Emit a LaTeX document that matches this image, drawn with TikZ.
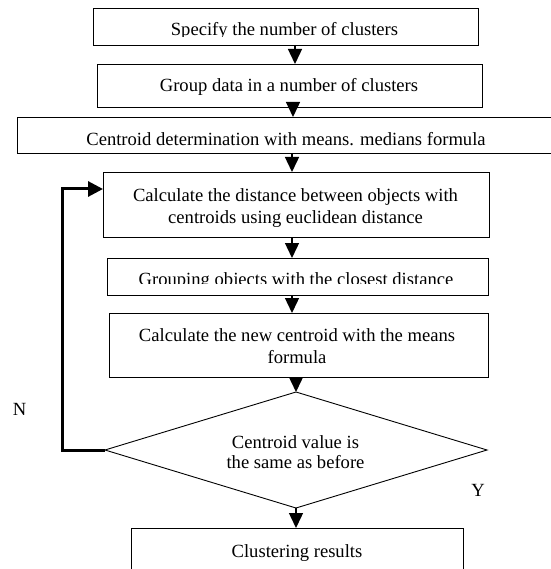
\documentclass[tikz,border=0pt]{standalone}
\usepackage{fontspec}
\setmainfont{Liberation Serif}
\usetikzlibrary{shapes.geometric,arrows.meta}
\begin{document}
\begin{tikzpicture}[x=1pt,y=-1pt,
  boxn/.style={draw=black,line width=0.9pt,rectangle,inner sep=0pt,outer sep=0pt},
  dia/.style={draw=black,line width=0.9pt,diamond,inner sep=0pt,outer sep=0pt,shape aspect=3.3},
  txt/.style={font=\fontsize{18.6}{22}\selectfont,inner sep=0pt,anchor=base,align=center},
  arr/.style={line width=1.4pt,-{Triangle[length=15pt,width=14pt]}},
  back/.style={line width=3pt,-{Triangle[length=15pt,width=15pt]}}]
\useasboundingbox (0,0) rectangle (550,569);
% boxes
\node[boxn,minimum width=385pt,minimum height=37pt] (b1) at (285.5,26.5) {};
\node[boxn,minimum width=385pt,minimum height=43pt] (b2) at (289.5,85.5) {};
\node[boxn,minimum width=543pt,minimum height=36pt] (b3) at (288.5,135) {};
\node[boxn,minimum width=386pt,minimum height=65pt] (b4) at (296,204.5) {};
\node[boxn,minimum width=381pt,minimum height=37pt] (b5) at (297.5,276.5) {};
\node[boxn,minimum width=379pt,minimum height=64pt] (b6) at (298.5,345) {};
\node[dia,minimum width=382pt,minimum height=116pt] (d) at (296,450) {};
\node[boxn,minimum width=332pt,minimum height=52pt] (b7) at (297,554) {};
% texts
\begin{scope}
\clip (93,8) rectangle (478,37);
\node[txt] (t1) at (284.5,36) {Specify the number of clusters};
\end{scope}
\node[txt] (t2) at (289,92) {Group data in a number of clusters};
\node[txt] (t3) at (286,146) {Centroid determination with means. medians formula};
\node[txt] (t4) at (295.5,223) {Calculate the distance between objects with\\centroids using euclidean distance};
\begin{scope}
\clip (107,258) rectangle (488,283.5);
\node[txt] (t5) at (296,285) {Grouping objects with the closest distance};
\end{scope}
\node[txt] (t6) at (297,363) {Calculate the new centroid with the means\\formula};
\node[txt,font=\fontsize{18.6}{20}\selectfont] (t7) at (295.5,468) {Centroid value is\\the same as before};
\node[txt] (t8) at (297,557) {Clustering results};
\node[txt] (n) at (19.5,415) {N};
\node[txt] (y) at (478,496) {Y};
% connectors
\coordinate (ax1) at (295,0);
\coordinate (ax2) at (293,0);
\coordinate (ax3) at (292,0);
\coordinate (lp) at (62,189);
\draw[arr] (b1.south -| ax1) -- (b2.north -| ax1);
\draw[arr] (b2.south -| ax2) -- (b3.north -| ax2);
\draw[arr] (b3.south -| ax3) -- (b4.north -| ax3);
\draw[arr] (b4.south -| ax3) -- (b5.north -| ax3);
\draw[arr] (b5.south -| ax3) -- (b6.north -| ax3);
\draw[arr] (b6.south -| d.north) -- (d.north);
\draw[arr] (d.south) -- (b7.north -| d.south);
\draw[back] (d.west) -| (lp) -- (b4.west |- lp);
\end{tikzpicture}
\end{document}
